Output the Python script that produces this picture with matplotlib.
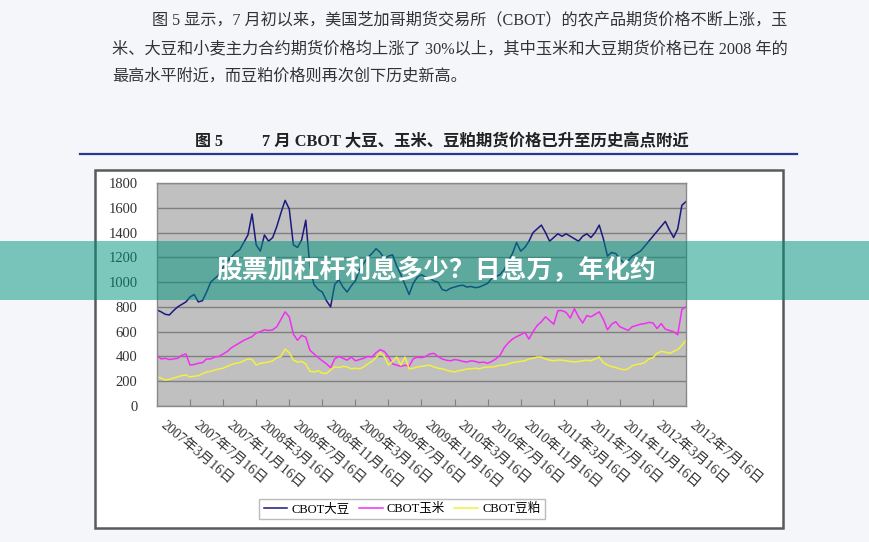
import matplotlib
matplotlib.use('Agg')
import matplotlib.pyplot as plt
import matplotlib.transforms as mtransforms
from matplotlib.patches import Rectangle
from matplotlib.lines import Line2D
import numpy as np

W, H = 870, 542
plt.rcParams['font.family'] = ['Liberation Serif', 'Noto Sans CJK SC', 'DejaVu Sans']

# 半月一个点, 从 2007年3月16日 到 2012年7月16日 (单位: 月)
months = np.arange(129) * 0.5

soybean = [775, 760, 740, 735, 770, 800, 820, 840, 880, 900,
           840, 850, 920, 1000, 1030, 1060, 1120, 1170, 1200, 1240,
           1260, 1320, 1380, 1550, 1300, 1250, 1380, 1330, 1360, 1450,
           1560, 1660, 1590, 1300, 1280, 1340, 1500, 1120, 980, 940,
           920, 850, 800, 980, 1020, 960, 920, 970, 1010, 1100,
           1150, 1200, 1230, 1270, 1240, 1190, 1210, 1220, 1130, 1060,
           980, 900, 990, 1040, 1060, 1040, 1030, 1010, 1000, 940,
           930, 950, 960, 970, 975, 960, 965, 955, 960, 975,
           990, 1030, 1045, 1060, 1100, 1170, 1230, 1320, 1250, 1280,
           1330, 1400, 1430, 1460, 1400, 1330, 1360, 1390, 1370, 1390,
           1370, 1350, 1330, 1370, 1390, 1360, 1400, 1460, 1350, 1210,
           1240, 1230, 1190, 1150, 1170, 1210, 1230, 1250, 1290, 1330,
           1370, 1410, 1450, 1490, 1420, 1360, 1430, 1620, 1650]

corn = [410, 380, 385, 375, 380, 385, 410, 420, 330, 335,
        345, 350, 380, 380, 395, 400, 420, 440, 470, 490,
        510, 530, 545, 560, 590, 600, 615, 610, 615, 640,
        700, 760, 720, 580, 530, 570, 555, 450, 420, 390,
        365, 340, 310, 380, 400, 385, 370, 395, 365, 375,
        385, 400, 395, 430, 455, 440, 400, 340, 330, 320,
        330, 320, 380, 395, 390, 400, 420, 425, 400, 380,
        370, 365, 375, 370, 360, 355, 365, 360, 350, 355,
        345, 360, 380, 410, 470, 510, 540, 560, 575, 595,
        540, 600, 650, 680, 720, 690, 660, 770, 770, 755,
        710, 785, 720, 670, 730, 720, 740, 760, 700, 615,
        660, 680, 640, 625, 610, 640, 650, 660, 665, 675,
        670, 625, 665, 620, 610, 600, 575, 780, 800]

meal = [235, 225, 210, 215, 225, 235, 245, 250, 235, 240,
        245, 260, 275, 280, 290, 300, 305, 320, 335, 345,
        350, 365, 380, 375, 330, 345, 350, 355, 365, 390,
        400, 460, 430, 370, 355, 360, 340, 280, 275, 285,
        265, 262, 290, 315, 310, 320, 315, 300, 305, 300,
        315, 340, 360, 390, 430, 400, 330, 360, 395, 330,
        395, 300, 305, 315, 320, 325, 330, 315, 305, 300,
        290, 280, 275, 285, 290, 300, 300, 305, 300, 310,
        315, 315, 320, 330, 330, 340, 350, 355, 360, 365,
        380, 385, 395, 395, 380, 370, 365, 370, 370, 365,
        360, 355, 360, 365, 370, 365, 380, 395, 350, 330,
        318, 310, 300, 292, 300, 325, 335, 340, 350, 380,
        390, 425, 440, 435, 425, 440, 455, 490, 530]

tick_months = np.arange(0, 65, 4)
tick_labels = ['2007年3月16日', '2007年7月16日', '2007年11月16日',
               '2008年3月16日', '2008年7月16日', '2008年11月16日',
               '2009年3月16日', '2009年7月16日', '2009年11月16日',
               '2010年3月16日', '2010年7月16日', '2010年11月16日',
               '2011年3月16日', '2011年7月16日', '2011年11月16日',
               '2012年3月16日', '2012年7月16日']
series_names = ['CBOT大豆', 'CBOT玉米', 'CBOT豆粕']
series_colors = ['#1a1a80', '#f030f0', '#f2f040']

para = ['图 5 显示，7 月初以来，美国芝加哥期货交易所（CBOT）的农产品期货价格不断上涨，玉',
        '米、大豆和小麦主力合约期货价格均上涨了 30%以上，其中玉米和大豆期货价格已在 2008 年的',
        '最高水平附近，而豆粕价格则再次创下历史新高。']
caption_no = '图 5'
caption = '7 月 CBOT 大豆、玉米、豆粕期货价格已升至历史高点附近'
banner = '股票加杠杆利息多少？日息万，年化约'


def fx(px):
    return px / W


def fy(py):
    return 1 - py / H


fig = plt.figure(figsize=(8.7, 5.42), dpi=100)
fig.patch.set_facecolor('#f5f6fa')

# 正文
fig.text(fx(152), fy(20), para[0], fontsize=11.65, color='#333333', va='center')
fig.text(fx(112), fy(49), para[1], fontsize=11.7, color='#333333', va='center')
fig.text(fx(112), fy(77), para[2], fontsize=11.65, color='#333333', va='center')

# 图题
fig.text(fx(195), fy(142), caption_no, fontsize=11.5, fontweight='bold', color='#222222', va='center')
fig.text(fx(262), fy(142), caption, fontsize=11.8, fontweight='bold', color='#222222', va='center')
fig.add_artist(Line2D([fx(80), fx(797)], [fy(154), fy(154)], color='#2b3592', lw=1.6))

# 图表外框
fig.add_artist(Rectangle((fx(95), fy(528)), fx(783) - fx(95), fy(170) - fy(528),
                         facecolor='white', edgecolor='#5a5a5a', lw=1.8, zorder=-1))

ax = fig.add_axes([fx(157), fy(406), fx(686) - fx(157), fy(183) - fy(406)])
ax.set_facecolor('#c0c0c0')
for vals, name, col in zip([soybean, corn, meal], series_names, series_colors):
    ax.plot(months, vals, color=col, lw=1.1, label=name)

ax.set_xlim(0, 64)
ax.set_ylim(0, 1800)
ax.set_yticks(np.arange(0, 1801, 200))
ax.yaxis.grid(True, color='#7f7f7f', lw=1)
ax.set_axisbelow(True)
ax.tick_params(axis='y', length=0, pad=14, labelsize=10.5, labelcolor='#333333')
ax.set_xticks(tick_months)
ax.set_xticklabels(tick_labels, rotation=-40, ha='left', va='top',
                   rotation_mode='anchor', fontsize=10, color='#333333')
ax.tick_params(axis='x', direction='in', length=5, color='#808080', pad=9)
shift = mtransforms.ScaledTranslation(9 / 100, 0, fig.dpi_scale_trans)
for lab in ax.get_xticklabels():
    lab.set_transform(lab.get_transform() + shift)
for s in ax.spines.values():
    s.set_color('#8a8a8a')
    s.set_linewidth(1)

leg = ax.legend(loc='center', bbox_to_anchor=(fx(402), fy(509)),
                bbox_transform=fig.transFigure, ncol=3, fontsize=9,
                frameon=True, fancybox=False, edgecolor='#aaaaaa',
                handlelength=1.9, handletextpad=0.35, columnspacing=0.7,
                borderpad=0.35)
leg.get_frame().set_linewidth(1)

# 横幅
fig.add_artist(Rectangle((0, fy(300)), 1, fy(241) - fy(300),
                         facecolor='#00937d', alpha=0.51, lw=0, zorder=5))
fig.text(fx(436), fy(271), banner, fontsize=18.6, fontweight='bold', color='white',
         ha='center', va='center', family=['Noto Sans CJK SC', 'DejaVu Sans'], zorder=6)

fig.savefig('out.png', dpi=100, facecolor=fig.get_facecolor())
